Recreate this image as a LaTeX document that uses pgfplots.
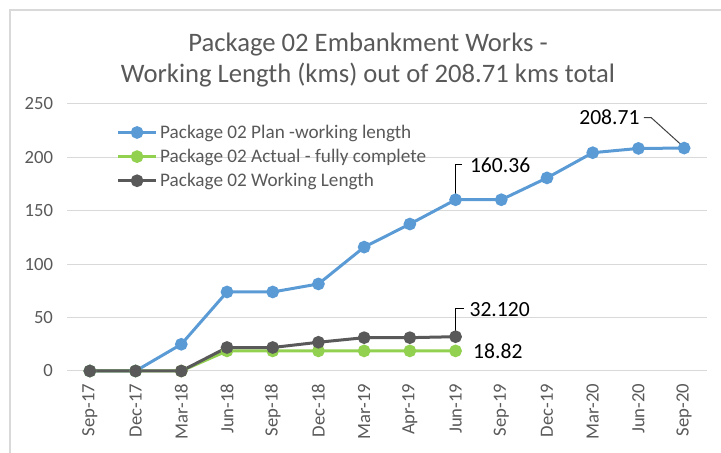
\documentclass[border=0pt]{standalone}
\usepackage{pgfplots}
\pgfplotsset{compat=1.18}
\usepackage{fontspec}
\setmainfont{Carlito}
\definecolor{planblue}{HTML}{5B9BD5}
\definecolor{actgreen}{HTML}{92D050}
\definecolor{wlgray}{HTML}{595959}
\definecolor{txtgray}{HTML}{595959}
\definecolor{gridgray}{HTML}{D9D9D9}
\begin{document}
\begin{tikzpicture}[x=0.75pt,y=0.75pt]
\path[use as bounding box] (0,0) rectangle (721,453);
\draw[gridgray, line width=1.5pt] (10,-5) -- (10,443) -- (730,443);
\node[text=txtgray, font=\fontsize{20}{23}\selectfont] at (368,408) {Package 02 Embankment Works -};
\node[text=txtgray, font=\fontsize{20}{23}\selectfont] at (368,378) {Working Length (kms) out of 208.71 kms total};
\begin{axis}[
  at={(50.25pt,61.5pt)}, anchor=south west,
  scale only axis, width=480pt, height=200.25pt,
  xmin=-0.5, xmax=13.5, ymin=0, ymax=250,
  xtick={0,...,13},
  xticklabels={Sep-17,Dec-17,Mar-18,Jun-18,Sep-18,Dec-18,Mar-19,Apr-19,Jun-19,Sep-19,Dec-19,Mar-20,Jun-20,Sep-20},
  ytick={0,50,...,250},
  axis line style={draw=none},
  major tick length=0pt,
  ymajorgrids, grid style={gridgray, line width=0.75pt},
  tick label style={font=\fontsize{14}{16}\selectfont, text=txtgray},
  /pgf/number format/assume math mode=true,
  xticklabel style={rotate=90, anchor=east, xshift=-6pt},
  yticklabel style={xshift=-7pt},
  clip=false,
  legend style={at={(0.075,0.938)}, anchor=north west, draw=none, fill=none,
    font=\fontsize{14.4}{16}\selectfont, text=txtgray, row sep=2.6pt,
    inner sep=1pt},
  legend cell align=left,
  legend image code/.code={\draw[mark repeat=2,mark phase=2] plot coordinates {(0cm,0cm) (0.5cm,0cm) (1cm,0cm)};},
]
\addplot[planblue, line width=2.25pt, mark=*, mark size=3.6pt, mark options={solid}] coordinates {
(0,0)(1,0)(2,25)(3,74)(4,74)(5,81.5)(6,116)(7,137.6)(8,160.36)(9,160.36)(10,180.8)(11,204.4)(12,208.4)(13,208.71)};
\addlegendentry{Package 02 Plan -working length}
\addplot[actgreen, line width=2.25pt, mark=*, mark size=3.6pt, mark options={solid}] coordinates {
(0,0)(1,0)(2,0)(3,18.82)(4,18.82)(5,18.82)(6,18.82)(7,18.82)(8,18.82)};
\addlegendentry{Package 02 Actual - fully complete}
\addplot[wlgray, line width=2.25pt, mark=*, mark size=3.6pt, mark options={solid}] coordinates {
(0,0)(1,0)(2,0)(3,22)(4,22)(5,26.9)(6,31.2)(7,31.2)(8,32.12)};
\addlegendentry{Package 02 Working Length}
\draw[black!75, line width=0.75pt] (axis cs:12.12,237.2) -- (axis cs:12.28,237.2) -- (axis cs:12.97,210.5);
\node[anchor=east, inner sep=0pt, font=\fontsize{16.2}{18}\selectfont] at (axis cs:12.03,237.5) {208.71};
\draw[black, line width=0.75pt] (axis cs:8,164) -- (axis cs:8,193) -- (axis cs:8.15,193);
\node[anchor=west, inner sep=0pt, font=\fontsize{16.2}{18}\selectfont] at (axis cs:8.31,193) {160.36};
\draw[black, line width=0.75pt] (axis cs:8,35) -- (axis cs:8,58.5) -- (axis cs:8.19,58.5);
\node[anchor=west, inner sep=0pt, font=\fontsize{16.2}{18}\selectfont] at (axis cs:8.3,57.8) {32.120};
\node[anchor=west, inner sep=0pt, font=\fontsize{16.2}{18}\selectfont] at (axis cs:8.38,18.2) {18.82};
\end{axis}
\end{tikzpicture}
\end{document}
